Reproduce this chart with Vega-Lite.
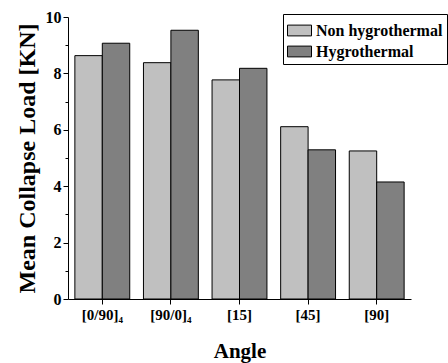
{
  "$schema": "https://vega.github.io/schema/vega-lite/v6.json",
  "width": 343,
  "height": 282,
  "autosize": "none",
  "padding": {"left": 68, "top": 17, "right": 37, "bottom": 64},
  "data": {
    "values": [
      {"angle": "[0/90]₄", "cond": "Non hygrothermal", "load": 8.63},
      {"angle": "[0/90]₄", "cond": "Hygrothermal", "load": 9.07},
      {"angle": "[90/0]₄", "cond": "Non hygrothermal", "load": 8.38},
      {"angle": "[90/0]₄", "cond": "Hygrothermal", "load": 9.53},
      {"angle": "[15]", "cond": "Non hygrothermal", "load": 7.77},
      {"angle": "[15]", "cond": "Hygrothermal", "load": 8.18},
      {"angle": "[45]", "cond": "Non hygrothermal", "load": 6.11},
      {"angle": "[45]", "cond": "Hygrothermal", "load": 5.29},
      {"angle": "[90]", "cond": "Non hygrothermal", "load": 5.25},
      {"angle": "[90]", "cond": "Hygrothermal", "load": 4.15}
    ]
  },
  "mark": {"type": "bar", "stroke": "black", "strokeWidth": 1},
  "encoding": {
    "x": {
      "field": "angle",
      "type": "nominal",
      "sort": ["[0/90]₄", "[90/0]₄", "[15]", "[45]", "[90]"],
      "scale": {"paddingInner": 0.2, "paddingOuter": 0.1},
      "title": "Angle",
      "axis": {
        "labelAngle": 0,
        "labelFont": "Liberation Serif",
        "labelFontWeight": "bold",
        "labelFontSize": 15,
        "labelColor": "black",
        "labelPadding": 3,
        "tickSize": 5,
        "tickColor": "black",
        "domainColor": "black",
        "titleFont": "Liberation Serif",
        "titleFontWeight": "bold",
        "titleFontSize": 21,
        "titleColor": "black",
        "titlePadding": 18
      }
    },
    "xOffset": {"field": "cond", "sort": ["Non hygrothermal", "Hygrothermal"]},
    "y": {
      "field": "load",
      "type": "quantitative",
      "scale": {"domain": [0, 10], "nice": false},
      "title": "Mean Collapse Load [KN]",
      "axis": {
        "values": [0, 1, 2, 3, 4, 5, 6, 7, 8, 9, 10],
        "labelExpr": "datum.value % 2 ? '' : datum.label",
        "tickSize": {"expr": "datum.value % 2 ? 3 : 5"},
        "grid": false,
        "labelFont": "Liberation Serif",
        "labelFontWeight": "bold",
        "labelFontSize": 16,
        "labelColor": "black",
        "labelPadding": 2,
        "tickColor": "black",
        "domainColor": "black",
        "titleFont": "Liberation Serif",
        "titleFontWeight": "bold",
        "titleFontSize": 24,
        "titleColor": "black",
        "titlePadding": 6
      }
    },
    "color": {
      "field": "cond",
      "type": "nominal",
      "scale": {"domain": ["Non hygrothermal", "Hygrothermal"], "range": ["#c0c0c0", "#808080"]},
      "legend": {
        "title": null,
        "orient": "none",
        "legendX": 215,
        "legendY": -3,
        "strokeColor": "black",
        "padding": 4,
        "symbolType": "M-1,-0.45h2v0.9h-2z",
        "symbolSize": 576,
        "symbolStrokeColor": "black",
        "symbolStrokeWidth": 1,
        "symbolOpacity": 1,
        "rowPadding": 0,
        "labelOffset": 4,
        "labelFont": "Liberation Serif",
        "labelFontWeight": "bold",
        "labelFontSize": 16,
        "labelColor": "black",
        "labelLimit": 200
      }
    }
  },
  "config": {"view": {"stroke": null}, "font": "Liberation Serif", "legend": {"labelFont": "Liberation Serif"}}
}
